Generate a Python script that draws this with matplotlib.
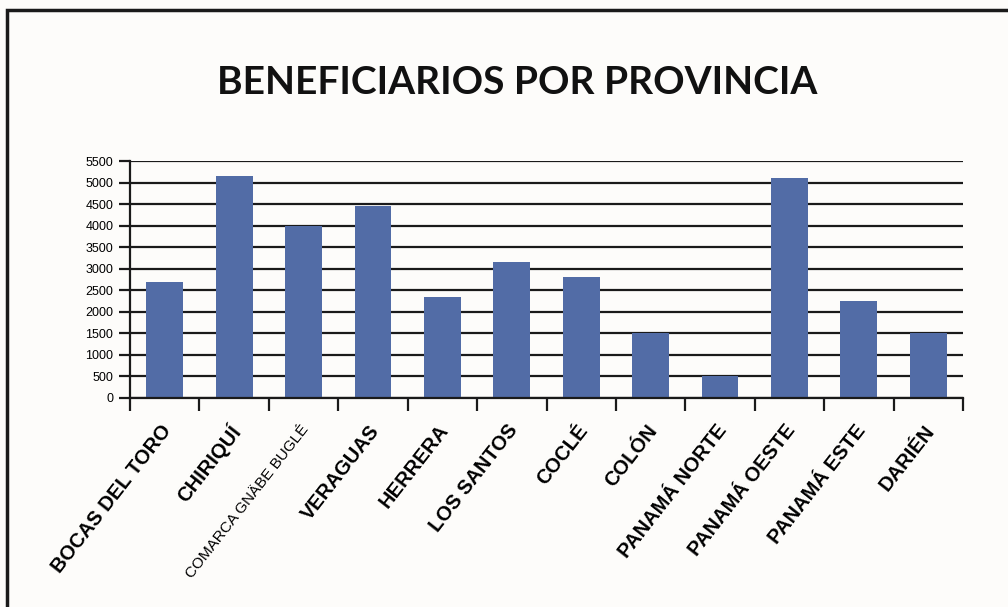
import matplotlib
matplotlib.use("Agg")
import matplotlib.pyplot as plt
import numpy as np

provincias = ["BOCAS DEL TORO", "CHIRIQUÍ", "COMARCA GNÄBE BUGLÉ", "VERAGUAS",
              "HERRERA", "LOS SANTOS", "COCLÉ", "COLÓN", "PANAMÁ NORTE",
              "PANAMÁ OESTE", "PANAMÁ ESTE", "DARIÉN"]
beneficiarios = [2700, 5150, 4000, 4450, 2350, 3150, 2800, 1500, 500, 5100, 2250, 1500]
yticks = list(range(0, 5501, 500))

bg = "#fdfcfa"
fig = plt.figure(figsize=(10.08, 6.07), dpi=100, facecolor=bg)
ax = fig.add_axes([130/1008, 1-398/607, 833/1008, (398-161)/607])
ax.set_facecolor(bg)

x = np.arange(len(provincias))
ax.bar(x, beneficiarios, width=0.53, color="#526ca6", zorder=3)

ax.set_xlim(-0.5, len(provincias) - 0.5)
ax.set_ylim(0, 5500)
ax.set_yticks(yticks)
ax.set_yticklabels([str(v) for v in yticks], fontsize=9, family="Liberation Sans")
ax.yaxis.grid(True, color="#1a1a1a", lw=1.6, zorder=1)
ax.tick_params(axis="y", length=8, width=1.6, pad=4, color="#1a1a1a")

# etiquetas en el centro, marcas en los limites de cada categoria
ax.set_xticks(x + 0.04)
ax.set_xticklabels(provincias, rotation=52, ha="right", va="center",
                   rotation_mode="anchor", fontsize=14.5, fontweight="bold",
                   family="Liberation Sans")
ax.get_xticklabels()[2].set_fontsize(11)
ax.get_xticklabels()[2].set_fontweight("medium")
ax.tick_params(axis="x", which="major", length=0, pad=21)
ax.set_xticks(np.arange(-0.5, len(provincias), 1), minor=True)
ax.tick_params(axis="x", which="minor", length=9, width=1.6, color="#1a1a1a")

for s in ["top", "right"]:
    ax.spines[s].set_visible(False)
for s in ["left", "bottom"]:
    ax.spines[s].set_linewidth(1.6)
    ax.spines[s].set_color("#1a1a1a")
ax.spines["bottom"].set_zorder(4)

fig.text(517/1008, 1-82/607, "BENEFICIARIOS POR PROVINCIA", ha="center", va="center",
         fontsize=28, fontweight="bold", family="Lato", color="#111111")

# marco de la imagen
fig.patches.append(plt.Rectangle((7/1008, -0.1), 1.2, 1-10/607+0.1, transform=fig.transFigure,
                                 fill=False, lw=2.5, ec="#1a1a1a"))

fig.savefig("out.png", dpi=100, facecolor=bg)
